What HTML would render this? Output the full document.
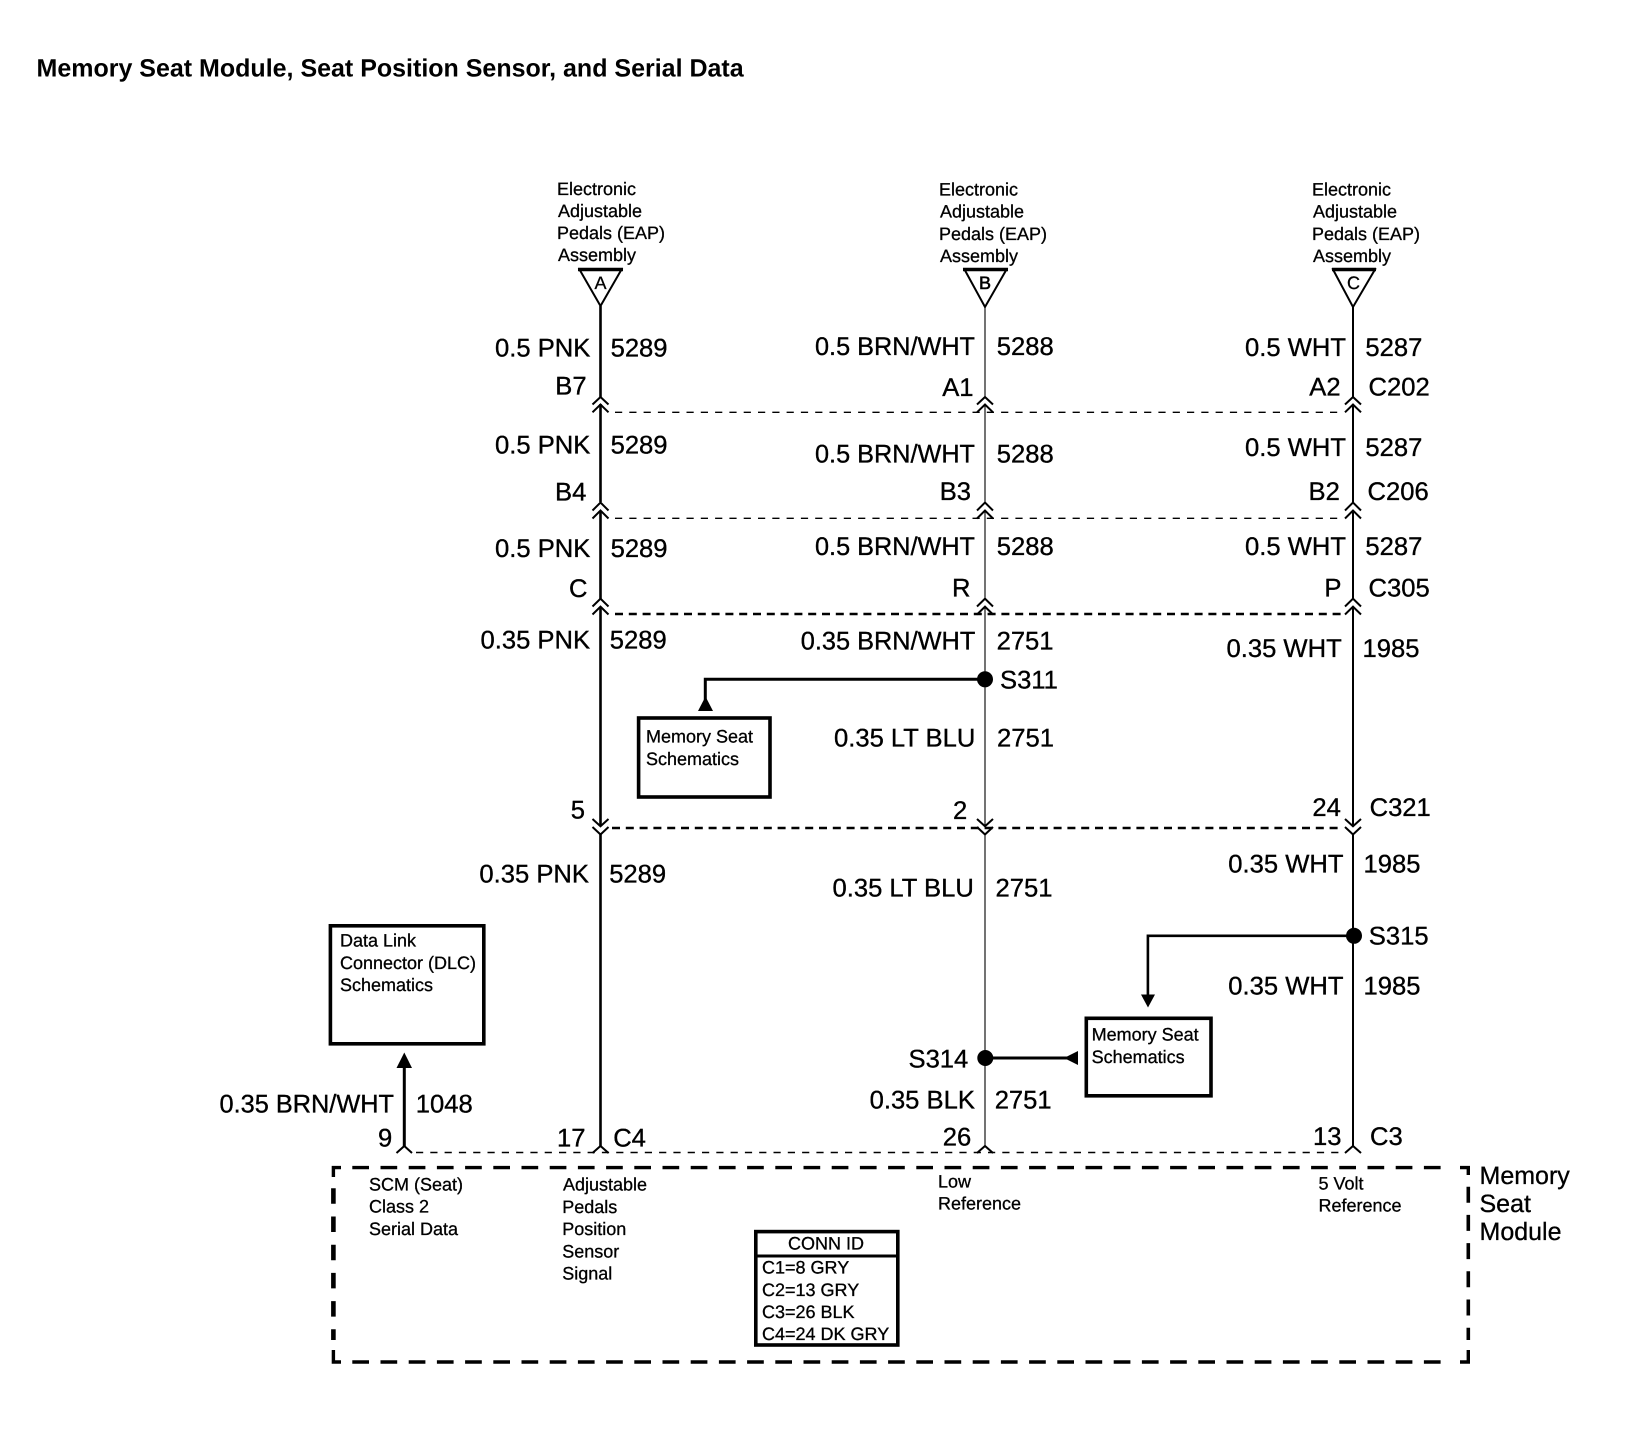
<!DOCTYPE html>
<html><head><meta charset="utf-8"><title>Memory Seat Module</title>
<style>
html,body{margin:0;padding:0;background:#fff}
svg{display:block}
text{font-family:"Liberation Sans",sans-serif;fill:#000;text-rendering:geometricPrecision}
.a{font-size:25.6px;stroke:#000;stroke-width:.35}
.s{font-size:18px;stroke:#000;stroke-width:.3}
.m{font-size:25px;stroke:#000;stroke-width:.3}
.t{font-size:25px;font-weight:bold}
.c{fill:none;stroke:#000;stroke-width:2}
</style></head><body>
<svg width="1628" height="1440" viewBox="0 0 1628 1440" xmlns="http://www.w3.org/2000/svg">
<rect width="1628" height="1440" fill="#fff"/>
<text class="t" x="36.5" y="76.5">Memory Seat Module, Seat Position Sensor, and Serial Data</text>

<!-- wires -->
<g stroke="#000" fill="none">
<path stroke-width="2.6" d="M600.5 306V397M600.5 404V502M600.5 511V599M600.5 607V826M600.5 834V1146"/>
<path stroke-width="1.1" d="M985 307V397M985 404V502M985 511V599M985 607V826M985 834V1146"/>
<path stroke-width="2" d="M1353 307V397M1353 404V502M1353 511V599M1353 607V826M1353 834V1146"/>
<path stroke-width="3" d="M404.3 1060V1146"/>
<!-- thin dashed rows -->
<path stroke-width="1.4" stroke-dasharray="7.2 7.1" d="M615 412.3H1342"/>
<path stroke-width="1.4" stroke-dasharray="7.2 7.1" d="M615 518.3H1342"/>
<path stroke-width="2.6" stroke-dasharray="8 5.8" d="M615 614H1342"/>
<path stroke-width="2.4" stroke-dasharray="8 5.8" d="M612 828H1342"/>
<path stroke-width="1.4" stroke-dasharray="7.2 7.1" d="M416 1152.5H1342"/>
<!-- module dashed box -->
<path stroke-width="3.4" stroke-dasharray="16.7 11.5" d="M352.3 1167.6H1452"/>
<path stroke-width="3.4" stroke-dasharray="16.7 11.5" d="M352.3 1362H1452"/>
<path stroke-width="4.6" stroke-dasharray="15.5 12.7" d="M333.4 1188.3V1340"/>
<path stroke-width="3.6" stroke-dasharray="16 12.2" d="M1468.3 1186.7V1340"/>
<path stroke-width="3.4" d="M341 1167.6H333.4V1177M1460 1167.6H1468.3V1175M1468.3 1350V1362H1460M333.4 1350V1362H341"/>
<!-- branch lines -->
<path stroke-width="3" d="M985 679.3H705.3V700"/>
<path stroke-width="2.6" d="M1354 935.8H1147.9V998"/>
<path stroke-width="3" d="M985 1058H1070"/>
</g>

<!-- chevrons -->
<g class="c">
<path d="M592.5 404.5L600.5 397L608.5 404.5M592.5 412.3L600.5 404.5L608.5 412.3"/>
<path d="M977 404.5L985 397L993 404.5M977 412.3L985 404.5L993 412.3"/>
<path d="M1345 404.5L1353 397L1361 404.5M1345 412.3L1353 404.5L1361 412.3"/>
<path d="M592.5 510.5L600.5 502.5L608.5 510.5M592.5 518.5L600.5 510.5L608.5 518.5"/>
<path d="M977 510.5L985 502.5L993 510.5M977 518.5L985 510.5L993 518.5"/>
<path d="M1345 510.5L1353 502.5L1361 510.5M1345 518.5L1353 510.5L1361 518.5"/>
<path d="M592.5 606.5L600.5 598.7L608.5 606.5M592.5 614.5L600.5 606.7L608.5 614.5"/>
<path d="M977 606.5L985 598.7L993 606.5M977 614.5L985 606.7L993 614.5"/>
<path d="M1345 606.5L1353 598.7L1361 606.5M1345 614.5L1353 606.7L1361 614.5"/>
<path d="M592.5 819L600.5 826.3L608.5 819M592.5 827L600.5 834.5L608.5 827"/>
<path d="M977 819L985 826.3L993 819M977 827L985 834.5L993 827"/>
<path d="M1345 819L1353 826.3L1361 819M1345 827L1353 834.5L1361 827"/>
<path d="M396.5 1153L404.3 1146L412 1153"/>
<path d="M592.5 1153L600.5 1146L608.5 1153"/>
<path d="M977 1153L985 1146L993 1153"/>
<path d="M1345 1153L1353 1146L1361 1153"/>
</g>

<!-- off-page triangles -->
<g fill="#fff" stroke="#000" stroke-width="2">
<path d="M579.5 269.5H621.5L600.5 306Z"/>
<path d="M964.5 269.5H1006.5L985 307Z"/>
<path d="M1333 269.5H1375L1353 307Z"/>
</g>
<g stroke="#000" stroke-width="3.4">
<path d="M578 269.5H623M963 269.5H1008M1332 269.5H1376"/>
</g>
<text class="s" x="594.5" y="289">A</text>
<text class="s" x="979" y="289" style="stroke-width:.6">B</text>
<text class="s" x="1347" y="289">C</text>

<!-- dots & arrowheads -->
<circle cx="985" cy="679.3" r="8"/>
<circle cx="1354" cy="935.8" r="8"/>
<circle cx="985.3" cy="1058" r="8"/>
<path d="M705.5 696.5L713 711H698Z"/>
<path d="M1148 1007.5L1155 994.5H1141Z"/>
<path d="M1064 1058L1078 1051V1065Z"/>
<path d="M404.3 1052.5L412 1068H396.5Z"/>

<!-- boxes -->
<g fill="none" stroke="#000" stroke-width="3.6">
<rect x="638.6" y="718" width="131.4" height="79"/>
<rect x="1086.3" y="1018.3" width="124.7" height="77.5"/>
<rect x="330.4" y="925.8" width="153.4" height="118"/>
<rect x="755.8" y="1231.6" width="142" height="113.4"/>
<path stroke-width="3" d="M756 1256H898"/>
</g>

<!-- top labels -->
<text class="s" x="557" y="195">Electronic</text><text class="s" x="558" y="217">Adjustable</text><text class="s" x="557" y="239">Pedals (EAP)</text><text class="s" x="558" y="261">Assembly</text>
<text class="s" x="939" y="195.7">Electronic</text><text class="s" x="940" y="217.7">Adjustable</text><text class="s" x="939" y="240">Pedals (EAP)</text><text class="s" x="940" y="262">Assembly</text>
<text class="s" x="1312" y="195.7">Electronic</text><text class="s" x="1313" y="217.7">Adjustable</text><text class="s" x="1312" y="240">Pedals (EAP)</text><text class="s" x="1313" y="262">Assembly</text>

<!-- column A -->
<text class="a" x="495" y="356.7">0.5 PNK</text><text class="a" x="610.6" y="356.7">5289</text>
<text class="a" x="555.3" y="394.5">B7</text>
<text class="a" x="495" y="453.7">0.5 PNK</text><text class="a" x="610.6" y="453.7">5289</text>
<text class="a" x="555" y="500.5">B4</text>
<text class="a" x="495" y="557">0.5 PNK</text><text class="a" x="610.6" y="557">5289</text>
<text class="a" x="569" y="597">C</text>
<text class="a" x="480.5" y="648.3">0.35 PNK</text><text class="a" x="609.8" y="648.3">5289</text>
<text class="a" x="570.8" y="818.3">5</text>
<text class="a" x="479.4" y="882.7">0.35 PNK</text><text class="a" x="609.2" y="882.7">5289</text>
<text class="a" x="557" y="1146.7">17</text><text class="a" x="613.2" y="1146.7">C4</text>

<!-- column B -->
<text class="a" x="815" y="355" textLength="160" lengthAdjust="spacingAndGlyphs">0.5 BRN/WHT</text><text class="a" x="996.8" y="355">5288</text>
<text class="a" x="942.2" y="396">A1</text>
<text class="a" x="815" y="462.3" textLength="160" lengthAdjust="spacingAndGlyphs">0.5 BRN/WHT</text><text class="a" x="996.8" y="462.3">5288</text>
<text class="a" x="939.7" y="500">B3</text>
<text class="a" x="815" y="555" textLength="160" lengthAdjust="spacingAndGlyphs">0.5 BRN/WHT</text><text class="a" x="996.8" y="555">5288</text>
<text class="a" x="952" y="596.7">R</text>
<text class="a" x="800.8" y="649.3" textLength="174.5" lengthAdjust="spacingAndGlyphs">0.35 BRN/WHT</text><text class="a" x="996.6" y="649.3">2751</text>
<text class="a" x="1000" y="688.3">S311</text>
<text class="a" x="834" y="746.7">0.35 LT BLU</text><text class="a" x="997" y="746.7">2751</text>
<text class="a" x="953" y="818.8">2</text>
<text class="a" x="832.5" y="896.7">0.35 LT BLU</text><text class="a" x="995.5" y="896.7">2751</text>
<text class="a" x="908.5" y="1067.5">S314</text>
<text class="a" x="869.6" y="1108.4">0.35 BLK</text><text class="a" x="994.7" y="1108.4">2751</text>
<text class="a" x="942.8" y="1145.5">26</text>

<!-- column C -->
<text class="a" x="1245" y="356">0.5 WHT</text><text class="a" x="1365.4" y="356">5287</text>
<text class="a" x="1309.3" y="395.3">A2</text><text class="a" x="1368.5" y="395.3">C202</text>
<text class="a" x="1245" y="456">0.5 WHT</text><text class="a" x="1365.4" y="456">5287</text>
<text class="a" x="1308.5" y="500">B2</text><text class="a" x="1367.5" y="500">C206</text>
<text class="a" x="1245" y="555">0.5 WHT</text><text class="a" x="1365.4" y="555">5287</text>
<text class="a" x="1324.4" y="596.7">P</text><text class="a" x="1368.5" y="596.7">C305</text>
<text class="a" x="1226.5" y="657">0.35 WHT</text><text class="a" x="1362.5" y="657">1985</text>
<text class="a" x="1312.4" y="815.8">24</text><text class="a" x="1369.6" y="815.8">C321</text>
<text class="a" x="1228.3" y="872.6">0.35 WHT</text><text class="a" x="1363.5" y="872.6">1985</text>
<text class="a" x="1368.8" y="944.6">S315</text>
<text class="a" x="1228.3" y="994.7">0.35 WHT</text><text class="a" x="1363.5" y="994.7">1985</text>
<text class="a" x="1313" y="1145">13</text><text class="a" x="1370" y="1145">C3</text>

<!-- left wire -->
<text class="a" x="219.5" y="1112.3" textLength="174.5" lengthAdjust="spacingAndGlyphs">0.35 BRN/WHT</text><text class="a" x="415.8" y="1112.3">1048</text>
<text class="a" x="378" y="1146.7">9</text>

<!-- box labels -->
<text class="s" x="646" y="742.7">Memory Seat</text><text class="s" x="646" y="765">Schematics</text>
<text class="s" x="1091.6" y="1040.5">Memory Seat</text><text class="s" x="1091.6" y="1063">Schematics</text>
<text class="s" x="340" y="946.7">Data Link</text><text class="s" x="340" y="969">Connector (DLC)</text><text class="s" x="340" y="991">Schematics</text>

<!-- module labels -->
<text class="s" x="369" y="1190.5">SCM (Seat)</text><text class="s" x="369" y="1212.7">Class 2</text><text class="s" x="369" y="1235">Serial Data</text>
<text class="s" x="563" y="1190.5">Adjustable</text><text class="s" x="562.2" y="1213">Pedals</text><text class="s" x="562.2" y="1235">Position</text><text class="s" x="562.2" y="1257.3">Sensor</text><text class="s" x="562.2" y="1279.3">Signal</text>
<text class="s" x="938" y="1187.4">Low</text><text class="s" x="938" y="1209.5">Reference</text>
<text class="s" x="1318.5" y="1189.5">5 Volt</text><text class="s" x="1318.5" y="1211.5">Reference</text>
<text class="m" x="1479.5" y="1184">Memory</text><text class="m" x="1479.5" y="1212">Seat</text><text class="m" x="1479.5" y="1240">Module</text>

<!-- conn id -->
<text class="s" x="788" y="1249.5">CONN ID</text>
<text class="s" x="762" y="1273.5" >C1=8 GRY</text><text class="s" x="762" y="1296">C2=13 GRY</text><text class="s" x="762" y="1318">C3=26 BLK</text><text class="s" x="762" y="1340">C4=24 DK GRY</text>
</svg>
</body></html>
